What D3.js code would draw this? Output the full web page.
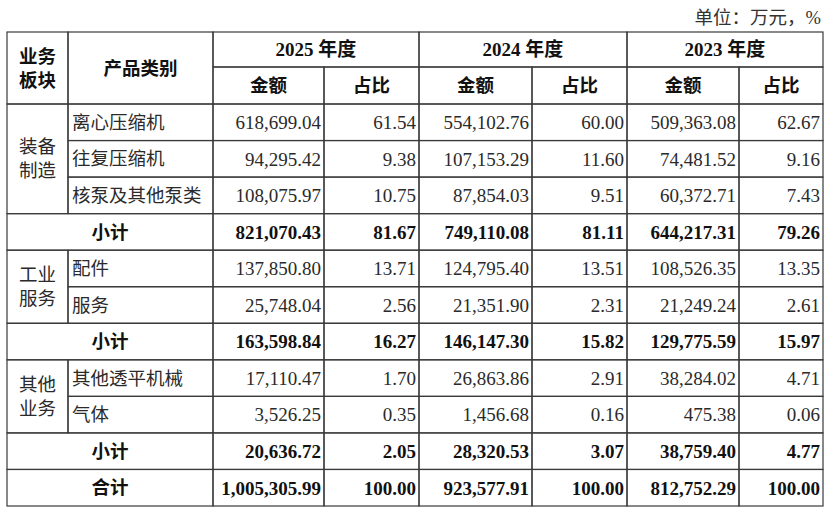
<!DOCTYPE html>
<html>
<head>
<meta charset="utf-8">
<script src="https://cdn.jsdelivr.net/npm/d3@7"></script>
<style>
  html, body { margin: 0; padding: 0; background: #fff; }
  svg { display: block; }
</style>
</head>
<body>
<div id="chart"></div>
<script>
const years = ["2025", "2024", "2023"];
const segments = ["装备制造", "工业服务", "其他业务"];
const products = ["离心压缩机", "往复压缩机", "核泵及其他泵类", "配件", "服务", "其他透平机械", "气体"];
const productSegment = [0, 0, 0, 1, 1, 2, 2];

// amounts (万元) and shares (%) per product, one array per year
const amount2025 = ["618,699.04", "94,295.42", "108,075.97", "137,850.80", "25,748.04", "17,110.47", "3,526.25"];
const share2025 = ["61.54", "9.38", "10.75", "13.71", "2.56", "1.70", "0.35"];
const amount2024 = ["554,102.76", "107,153.29", "87,854.03", "124,795.40", "21,351.90", "26,863.86", "1,456.68"];
const share2024 = ["60.00", "11.60", "9.51", "13.51", "2.31", "2.91", "0.16"];
const amount2023 = ["509,363.08", "74,481.52", "60,372.71", "108,526.35", "21,249.24", "38,284.02", "475.38"];
const share2023 = ["62.67", "9.16", "7.43", "13.35", "2.61", "4.71", "0.06"];

// subtotals per segment
const subAmount2025 = ["821,070.43", "163,598.84", "20,636.72"];
const subShare2025 = ["81.67", "16.27", "2.05"];
const subAmount2024 = ["749,110.08", "146,147.30", "28,320.53"];
const subShare2024 = ["81.11", "15.82", "3.07"];
const subAmount2023 = ["644,217.31", "129,775.59", "38,759.40"];
const subShare2023 = ["79.26", "15.97", "4.77"];

const totalAmount = ["1,005,305.99", "923,577.91", "812,752.29"];
const totalShare = ["100.00", "100.00", "100.00"];

const unitLabel = "单位：万元，%";

// ---- layout ----
const W = 831, H = 510;
const colWidths = [61, 145, 111, 95, 113, 95, 112, 84];
const tableLeft = 7;
const colEdges = [tableLeft];
colWidths.forEach((w) => colEdges.push(colEdges[colEdges.length - 1] + w));
const headTop = 32, headMid = 67, bodyTop = 104, bodyBottom = 506;
const fontFamily = "'Liberation Serif', 'Times New Roman', 'Noto Sans CJK SC', serif";
const ink = "#1d1d1d";
const hasCJK = (t) => /[\u3000-\u9fff\uff00-\uffef]/.test(t);

const amounts = [amount2025, amount2024, amount2023];
const shares = [share2025, share2024, share2023];
const subAmounts = [subAmount2025, subAmount2024, subAmount2023];
const subShares = [subShare2025, subShare2024, subShare2023];

// Build body rows: products, subtotal after each segment, total at end
const rows = [];
segments.forEach((seg, si) => {
  products.forEach((p, pi) => {
    if (productSegment[pi] !== si) return;
    rows.push({
      type: "item", seg: si, label: p,
      values: years.flatMap((_, yi) => [amounts[yi][pi], shares[yi][pi]])
    });
  });
  rows.push({
    type: "sub", seg: si, label: "小计",
    values: years.flatMap((_, yi) => [subAmounts[yi][si], subShares[yi][si]])
  });
});
rows.push({
  type: "total", label: "合计",
  values: years.flatMap((_, yi) => [totalAmount[yi], totalShare[yi]])
});

const y = d3.scaleBand().domain(d3.range(rows.length)).range([bodyTop, bodyBottom]);

const svg = d3.select("#chart").append("svg")
  .attr("width", W).attr("height", H)
  .attr("font-family", fontFamily)
  .attr("fill", ink);

svg.append("rect").attr("width", W).attr("height", H).attr("fill", "#fff");

// cells: c0..c1 column span, y0..y1 pixel span
const cells = [];
cells.push({ c0: 0, c1: 1, y0: headTop, y1: bodyTop, lines: ["业务", "板块"], bold: true, align: "middle" });
cells.push({ c0: 1, c1: 2, y0: headTop, y1: bodyTop, lines: ["产品类别"], bold: true, align: "middle" });
years.forEach((yr, yi) => {
  cells.push({ c0: 2 + yi * 2, c1: 4 + yi * 2, y0: headTop, y1: headMid, lines: [yr + " 年度"], bold: true, align: "middle" });
  cells.push({ c0: 2 + yi * 2, c1: 3 + yi * 2, y0: headMid, y1: bodyTop, lines: ["金额"], bold: true, align: "middle" });
  cells.push({ c0: 3 + yi * 2, c1: 4 + yi * 2, y0: headMid, y1: bodyTop, lines: ["占比"], bold: true, align: "middle" });
});

segments.forEach((seg, si) => {
  const idx = rows.map((r, i) => (r.type === "item" && r.seg === si ? i : -1)).filter((i) => i >= 0);
  cells.push({
    c0: 0, c1: 1, y0: y(idx[0]), y1: y(idx[idx.length - 1]) + y.bandwidth(),
    lines: [seg.slice(0, 2), seg.slice(2)], bold: false, align: "middle"
  });
});

rows.forEach((r, i) => {
  const y0 = y(i), y1 = y(i) + y.bandwidth();
  const bold = r.type !== "item";
  if (r.type === "item") {
    cells.push({ c0: 1, c1: 2, y0, y1, lines: [r.label], bold, align: "start" });
  } else {
    cells.push({ c0: 0, c1: 2, y0, y1, lines: [r.label], bold, align: "middle" });
  }
  r.values.forEach((v, vi) => {
    cells.push({ c0: 2 + vi, c1: 3 + vi, y0, y1, lines: [v], bold, align: "end" });
  });
});

const cellG = svg.selectAll(".cell").data(cells).join("g").attr("class", "cell");

cellG.append("rect")
  .attr("x", (d) => colEdges[d.c0])
  .attr("y", (d) => d.y0)
  .attr("width", (d) => colEdges[d.c1] - colEdges[d.c0])
  .attr("height", (d) => d.y1 - d.y0)
  .attr("fill", "none")
  .attr("stroke", "#3a3a3a")
  .attr("stroke-width", 1.2);

const lineH = 24;
cellG.each(function (d) {
  const g = d3.select(this);
  const x = d.align === "start" ? colEdges[d.c0] + 4
    : d.align === "end" ? colEdges[d.c1] - 3
    : (colEdges[d.c0] + colEdges[d.c1]) / 2;
  const cy = (d.y0 + d.y1) / 2;
  d.lines.forEach((t, li) => {
    g.append("text")
      .attr("x", x)
      .attr("y", cy + (li - (d.lines.length - 1) / 2) * lineH)
      .attr("dy", "0.36em")
      .attr("text-anchor", d.align)
      .attr("font-size", hasCJK(t) && !/\d/.test(t) ? 18.5 : 19)
      .attr("font-weight", d.bold ? "bold" : "normal")
      .attr("fill", d.bold ? "#111" : "#2a2a2a")
      .text(t);
  });
});

svg.append("text")
  .attr("x", colEdges[colEdges.length - 1] - 2)
  .attr("y", 24)
  .attr("text-anchor", "end")
  .attr("font-size", 18.5)
  .attr("fill", "#333")
  .text(unitLabel);
</script>
</body>
</html>
